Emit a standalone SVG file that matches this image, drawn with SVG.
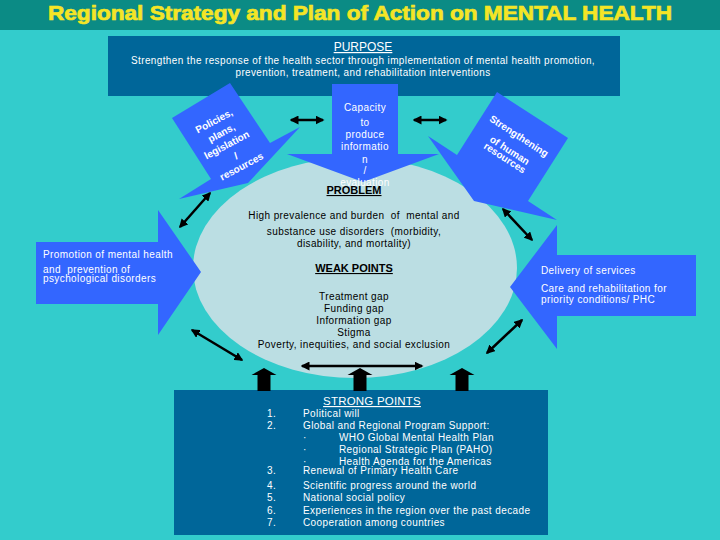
<svg xmlns="http://www.w3.org/2000/svg" width="720" height="540" viewBox="0 0 720 540">
<defs>
<style>
text{font-family:"Liberation Sans",Arial,Helvetica,sans-serif}
.w{fill:#fff;font-size:10px;letter-spacing:.4px}
.k{fill:#000;font-size:10px;letter-spacing:.4px}
.c{text-anchor:middle}
.u{text-decoration:underline}
.b{font-weight:bold}
.blue{fill:#3366ff}
.box{fill:#006699}
.dbl{stroke:#000;stroke-width:2.5;fill:none;marker-start:url(#ah);marker-end:url(#ah)}
.up{fill:#000}
.rt{fill:#fff;font-size:10px;font-weight:bold;text-anchor:middle}
</style>
<marker id="ah" markerUnits="userSpaceOnUse" markerWidth="9" markerHeight="9" refX="7.5" refY="4.5" orient="auto-start-reverse" viewBox="0 0 9 9"><path d="M0,0 L9,4.5 L0,9 z" fill="#000"/></marker>
<path id="uparrow" d="M-12.5,7 L0,0 L12.5,7 L6.5,7 L6.5,23 L-6.5,23 L-6.5,7 z"/>
</defs>
<rect width="720" height="540" fill="#33cccc"/>
<g id="title">
<rect width="720" height="30" fill="#0b8b85"/>
<text x="360" y="20" text-anchor="middle" font-size="20" font-weight="bold" fill="#f4e526" stroke="#f4e526" stroke-width="0.7" textLength="624" lengthAdjust="spacingAndGlyphs">Regional Strategy and Plan of Action on MENTAL  HEALTH</text>
</g>
<g id="problem-area">
<ellipse cx="355" cy="268" rx="162" ry="110" fill="#bbdee3"/>
</g>
<g id="purpose">
<rect class="box" x="108" y="36" width="512" height="60"/>
<text class="w c u" x="363" y="51" style="font-size:12px;letter-spacing:0">PURPOSE</text>
<text class="w c" x="363" y="64" textLength="464" lengthAdjust="spacingAndGlyphs">Strengthen the response of the health sector through implementation of mental health promotion,</text>
<text class="w c" x="363" y="76" textLength="255" lengthAdjust="spacingAndGlyphs">prevention, treatment, and rehabilitation interventions</text>
</g>
<g id="arrow-policies">
<polygon class="blue" points="172,118 230,83 270,143 300,127 248,183 179,199 211,179"/>
<g transform="translate(214,121) rotate(-28)">
<text class="rt" x="0" y="3.5">Policies,</text>
<text class="rt" x="1" y="17.5">plans,</text>
<text class="rt" x="0" y="30.5">legislation</text>
<text class="rt" x="3" y="44.5">/</text>
<text class="rt" x="3" y="56.5">resources</text>
</g>
</g>
<g id="arrow-capacity">
<polygon class="blue" points="332,84 398,84 398,154 439,154 363,182 287,154 332,154"/>
<text class="w c" x="365" y="111">Capacity</text>
<text class="w c" x="365" y="126">to</text>
<text class="w c" x="365" y="138">produce</text>
<text class="w c" x="365" y="150">informatio</text>
<text class="w c" x="365" y="163">n</text>
<text class="w c" x="365" y="174">/</text>
<text class="w c" x="365" y="186">evaluation</text>
</g>
<g id="arrow-strengthening">
<polygon class="blue" points="497,92 568,138 528,201 557,220 474,201 428,136 457,155"/>
<g transform="translate(519,136) rotate(33)">
<text class="rt" x="0" y="3.5">Strengthening</text>
<text class="rt" x="0" y="20.5">of human</text>
<text class="rt" x="0" y="29.5">resources</text>
</g>
</g>
<g id="arrow-promotion">
<polygon class="blue" points="36,242 158,242 158,210 201,272 158,335 158,304 36,304"/>
<text class="w" x="43" y="258">Promotion of mental health</text>
<text class="w" x="43" y="273" xml:space="preserve">and  prevention of</text>
<text class="w" x="43" y="282">psychological disorders</text>
</g>
<g id="arrow-delivery">
<polygon class="blue" points="696,255 557,255 557,225 510,287 557,349 557,316 696,316"/>
<text class="w" x="541" y="274">Delivery of services</text>
<text class="w" x="541" y="292">Care and rehabilitation for</text>
<text class="w" x="541" y="303">priority conditions/ PHC</text>
</g>
<g id="problem-text">
<text class="k c b u" x="354" y="194" style="font-size:11px;letter-spacing:0">PROBLEM</text>
<text class="k c" x="354" y="219" xml:space="preserve">High prevalence and burden  of  mental and</text>
<text class="k c" x="354" y="235" xml:space="preserve">substance use disorders  (morbidity,</text>
<text class="k c" x="354" y="247">disability, and mortality)</text>
<text class="k c b u" x="354" y="272" style="font-size:11px;letter-spacing:0">WEAK POINTS</text>
<text class="k c" x="354" y="300">Treatment gap</text>
<text class="k c" x="354" y="312">Funding gap</text>
<text class="k c" x="354" y="324">Information gap</text>
<text class="k c" x="354" y="336">Stigma</text>
<text class="k c" x="354" y="348">Poverty, inequities, and social exclusion</text>
</g>
<g id="strong-points">
<rect class="box" x="174" y="390" width="374" height="145"/>
<text class="w c u" x="372" y="405" style="font-size:11.5px;letter-spacing:.2px">STRONG POINTS</text>
<text class="w" x="267" y="417">1.</text><text class="w" x="303" y="417">Political will</text>
<text class="w" x="267" y="429">2.</text><text class="w" x="303" y="429">Global and Regional Program Support:</text>
<text class="w" x="303" y="441">·</text><text class="w" x="339" y="441">WHO Global Mental Health Plan</text>
<text class="w" x="303" y="453">·</text><text class="w" x="339" y="453">Regional Strategic Plan (PAHO)</text>
<text class="w" x="303" y="465">·</text><text class="w" x="339" y="465">Health Agenda for the Americas</text>
<text class="w" x="267" y="474">3.</text><text class="w" x="303" y="474">Renewal of Primary Health Care</text>
<text class="w" x="267" y="489">4.</text><text class="w" x="303" y="489">Scientific progress around the world</text>
<text class="w" x="267" y="501">5.</text><text class="w" x="303" y="501">National social policy</text>
<text class="w" x="267" y="514">6.</text><text class="w" x="303" y="514">Experiences in the region over the past decade</text>
<text class="w" x="267" y="526">7.</text><text class="w" x="303" y="526">Cooperation among countries</text>
</g>
<g id="connectors">
<line class="dbl" x1="180" y1="227" x2="210" y2="193"/>
<line class="dbl" x1="503" y1="209" x2="532" y2="240"/>
<line class="dbl" x1="192" y1="330" x2="242" y2="360"/>
<line class="dbl" x1="487" y1="353" x2="522" y2="320"/>
<line class="dbl" x1="302" y1="366" x2="422" y2="366"/>
<line class="dbl" x1="291" y1="120" x2="323" y2="120"/>
<line class="dbl" x1="414" y1="120" x2="446" y2="120"/>
<use href="#uparrow" class="up" x="264" y="368"/>
<use href="#uparrow" class="up" x="360" y="368"/>
<use href="#uparrow" class="up" x="462" y="368"/>
</g>
</svg>
